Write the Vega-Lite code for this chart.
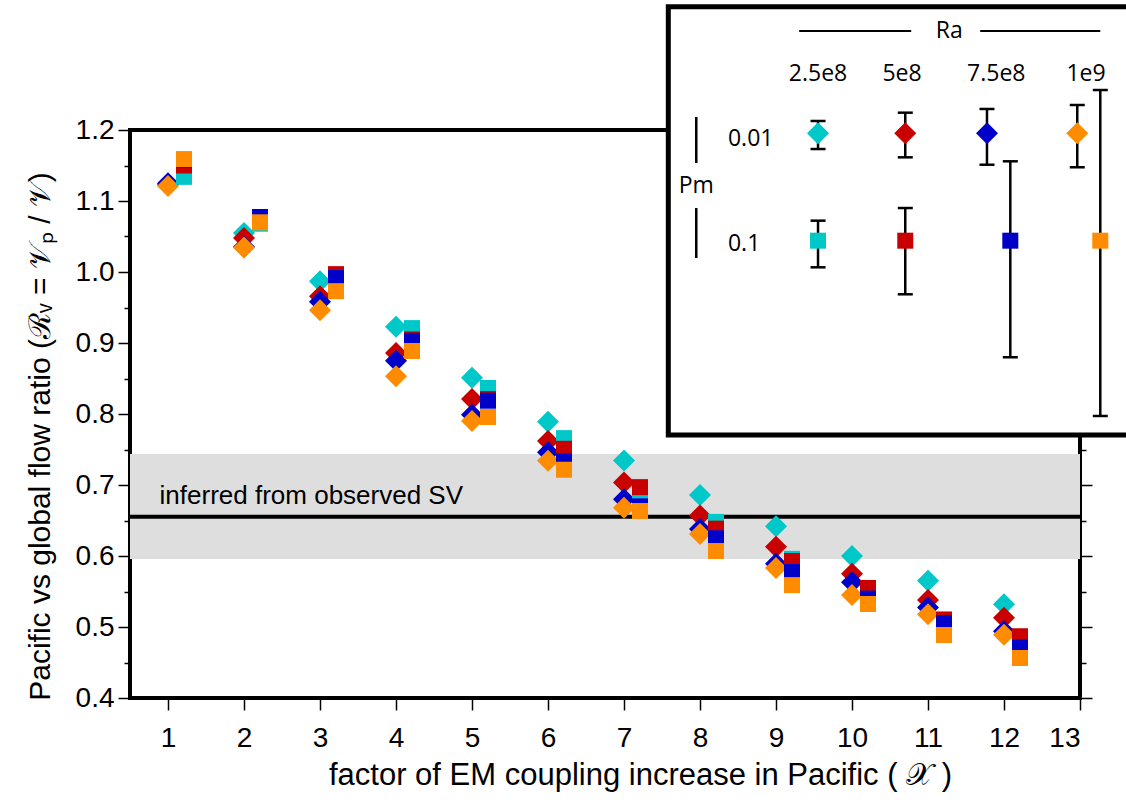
{
  "$schema": "https://vega.github.io/schema/vega-lite/v6.json",
  "width": 950,
  "height": 568,
  "autosize": {"type": "none"},
  "padding": {"left": 130, "top": 130, "right": 46, "bottom": 104},
  "background": "white",
  "config": {
    "view": {"stroke": "black", "strokeWidth": 4},
    "font": "Liberation Sans",
    "axis": {
      "labelFont": "Liberation Sans", "labelFontSize": 28, "labelColor": "black",
      "titleFont": "Liberation Sans", "titleFontSize": 30, "titleFontWeight": "normal", "titleColor": "black",
      "tickColor": "black", "tickWidth": 1.5, "domain": false, "grid": false
    },
    "axisX": {"tickSize": 12, "labelPadding": 14, "titlePadding": 8, "labelOverlap": false, "titleFontSize": 31}
  },
  "datasets": {
    "pts": [
      {"x": 1, "pm": "0.01", "ra": "2.5e8", "v": 1.124}, {"x": 2, "pm": "0.01", "ra": "2.5e8", "v": 1.055}, {"x": 3, "pm": "0.01", "ra": "2.5e8", "v": 0.987}, {"x": 4, "pm": "0.01", "ra": "2.5e8", "v": 0.923}, {"x": 5, "pm": "0.01", "ra": "2.5e8", "v": 0.851}, {"x": 6, "pm": "0.01", "ra": "2.5e8", "v": 0.789}, {"x": 7, "pm": "0.01", "ra": "2.5e8", "v": 0.7345}, {"x": 8, "pm": "0.01", "ra": "2.5e8", "v": 0.686}, {"x": 9, "pm": "0.01", "ra": "2.5e8", "v": 0.642}, {"x": 10, "pm": "0.01", "ra": "2.5e8", "v": 0.6}, {"x": 11, "pm": "0.01", "ra": "2.5e8", "v": 0.565}, {"x": 12, "pm": "0.01", "ra": "2.5e8", "v": 0.532},
      {"x": 1, "pm": "0.01", "ra": "5e8", "v": 1.123}, {"x": 2, "pm": "0.01", "ra": "5e8", "v": 1.048}, {"x": 3, "pm": "0.01", "ra": "5e8", "v": 0.966}, {"x": 4, "pm": "0.01", "ra": "5e8", "v": 0.886}, {"x": 5, "pm": "0.01", "ra": "5e8", "v": 0.821}, {"x": 6, "pm": "0.01", "ra": "5e8", "v": 0.762}, {"x": 7, "pm": "0.01", "ra": "5e8", "v": 0.7035}, {"x": 8, "pm": "0.01", "ra": "5e8", "v": 0.657}, {"x": 9, "pm": "0.01", "ra": "5e8", "v": 0.613}, {"x": 10, "pm": "0.01", "ra": "5e8", "v": 0.575}, {"x": 11, "pm": "0.01", "ra": "5e8", "v": 0.538}, {"x": 12, "pm": "0.01", "ra": "5e8", "v": 0.513},
      {"x": 1, "pm": "0.01", "ra": "7.5e8", "v": 1.125}, {"x": 2, "pm": "0.01", "ra": "7.5e8", "v": 1.0355}, {"x": 3, "pm": "0.01", "ra": "7.5e8", "v": 0.958}, {"x": 4, "pm": "0.01", "ra": "7.5e8", "v": 0.875}, {"x": 5, "pm": "0.01", "ra": "7.5e8", "v": 0.799}, {"x": 6, "pm": "0.01", "ra": "7.5e8", "v": 0.746}, {"x": 7, "pm": "0.01", "ra": "7.5e8", "v": 0.68}, {"x": 8, "pm": "0.01", "ra": "7.5e8", "v": 0.638}, {"x": 9, "pm": "0.01", "ra": "7.5e8", "v": 0.589}, {"x": 10, "pm": "0.01", "ra": "7.5e8", "v": 0.563}, {"x": 11, "pm": "0.01", "ra": "7.5e8", "v": 0.5275}, {"x": 12, "pm": "0.01", "ra": "7.5e8", "v": 0.494},
      {"x": 1, "pm": "0.01", "ra": "1e9", "v": 1.121}, {"x": 2, "pm": "0.01", "ra": "1e9", "v": 1.0345}, {"x": 3, "pm": "0.01", "ra": "1e9", "v": 0.946}, {"x": 4, "pm": "0.01", "ra": "1e9", "v": 0.853}, {"x": 5, "pm": "0.01", "ra": "1e9", "v": 0.79}, {"x": 6, "pm": "0.01", "ra": "1e9", "v": 0.734}, {"x": 7, "pm": "0.01", "ra": "1e9", "v": 0.668}, {"x": 8, "pm": "0.01", "ra": "1e9", "v": 0.631}, {"x": 9, "pm": "0.01", "ra": "1e9", "v": 0.583}, {"x": 10, "pm": "0.01", "ra": "1e9", "v": 0.545}, {"x": 11, "pm": "0.01", "ra": "1e9", "v": 0.518}, {"x": 12, "pm": "0.01", "ra": "1e9", "v": 0.489},
      {"x": 1, "pm": "0.1", "ra": "2.5e8", "v": 1.134}, {"x": 2, "pm": "0.1", "ra": "2.5e8", "v": 1.068}, {"x": 3, "pm": "0.1", "ra": "2.5e8", "v": 0.985}, {"x": 4, "pm": "0.1", "ra": "2.5e8", "v": 0.921}, {"x": 5, "pm": "0.1", "ra": "2.5e8", "v": 0.8366}, {"x": 6, "pm": "0.1", "ra": "2.5e8", "v": 0.766}, {"x": 7, "pm": "0.1", "ra": "2.5e8", "v": 0.687}, {"x": 8, "pm": "0.1", "ra": "2.5e8", "v": 0.648}, {"x": 9, "pm": "0.1", "ra": "2.5e8", "v": 0.596}, {"x": 10, "pm": "0.1", "ra": "2.5e8", "v": 0.549}, {"x": 11, "pm": "0.1", "ra": "2.5e8", "v": 0.511}, {"x": 12, "pm": "0.1", "ra": "2.5e8", "v": 0.482},
      {"x": 1, "pm": "0.1", "ra": "5e8", "v": 1.15}, {"x": 2, "pm": "0.1", "ra": "5e8", "v": 1.073}, {"x": 3, "pm": "0.1", "ra": "5e8", "v": 0.997}, {"x": 4, "pm": "0.1", "ra": "5e8", "v": 0.905}, {"x": 5, "pm": "0.1", "ra": "5e8", "v": 0.821}, {"x": 6, "pm": "0.1", "ra": "5e8", "v": 0.751}, {"x": 7, "pm": "0.1", "ra": "5e8", "v": 0.697}, {"x": 8, "pm": "0.1", "ra": "5e8", "v": 0.6385}, {"x": 9, "pm": "0.1", "ra": "5e8", "v": 0.593}, {"x": 10, "pm": "0.1", "ra": "5e8", "v": 0.555}, {"x": 11, "pm": "0.1", "ra": "5e8", "v": 0.51}, {"x": 12, "pm": "0.1", "ra": "5e8", "v": 0.487},
      {"x": 1, "pm": "0.1", "ra": "7.5e8", "v": 1.158}, {"x": 2, "pm": "0.1", "ra": "7.5e8", "v": 1.0775}, {"x": 3, "pm": "0.1", "ra": "7.5e8", "v": 0.9915}, {"x": 4, "pm": "0.1", "ra": "7.5e8", "v": 0.903}, {"x": 5, "pm": "0.1", "ra": "7.5e8", "v": 0.8187}, {"x": 6, "pm": "0.1", "ra": "7.5e8", "v": 0.733}, {"x": 7, "pm": "0.1", "ra": "7.5e8", "v": 0.67}, {"x": 8, "pm": "0.1", "ra": "7.5e8", "v": 0.625}, {"x": 9, "pm": "0.1", "ra": "7.5e8", "v": 0.5775}, {"x": 10, "pm": "0.1", "ra": "7.5e8", "v": 0.54}, {"x": 11, "pm": "0.1", "ra": "7.5e8", "v": 0.5056}, {"x": 12, "pm": "0.1", "ra": "7.5e8", "v": 0.471},
      {"x": 1, "pm": "0.1", "ra": "1e9", "v": 1.159}, {"x": 2, "pm": "0.1", "ra": "1e9", "v": 1.07}, {"x": 3, "pm": "0.1", "ra": "1e9", "v": 0.973}, {"x": 4, "pm": "0.1", "ra": "1e9", "v": 0.8887}, {"x": 5, "pm": "0.1", "ra": "1e9", "v": 0.7958}, {"x": 6, "pm": "0.1", "ra": "1e9", "v": 0.7215}, {"x": 7, "pm": "0.1", "ra": "1e9", "v": 0.6634}, {"x": 8, "pm": "0.1", "ra": "1e9", "v": 0.607}, {"x": 9, "pm": "0.1", "ra": "1e9", "v": 0.559}, {"x": 10, "pm": "0.1", "ra": "1e9", "v": 0.5324}, {"x": 11, "pm": "0.1", "ra": "1e9", "v": 0.4887}, {"x": 12, "pm": "0.1", "ra": "1e9", "v": 0.4563}
    ],
    "leg": [
      {"ra": "2.5e8", "pm": "0.01", "lx": 9.553, "ly": 1.1953, "lo": 1.1732, "hi": 1.2127},
      {"ra": "5e8", "pm": "0.01", "lx": 10.701, "ly": 1.1953, "lo": 1.1615, "hi": 1.2244},
      {"ra": "7.5e8", "pm": "0.01", "lx": 11.776, "ly": 1.1953, "lo": 1.1511, "hi": 1.2296},
      {"ra": "1e9", "pm": "0.01", "lx": 12.964, "ly": 1.1953, "lo": 1.1475, "hi": 1.2352},
      {"ra": "2.5e8", "pm": "0.1", "lx": 9.553, "ly": 1.0441, "lo": 1.0066, "hi": 1.0723},
      {"ra": "5e8", "pm": "0.1", "lx": 10.701, "ly": 1.0441, "lo": 0.9686, "hi": 1.0901},
      {"ra": "7.5e8", "pm": "0.1", "lx": 12.083, "ly": 1.0441, "lo": 0.8799, "hi": 1.1559},
      {"ra": "1e9", "pm": "0.1", "lx": 13.267, "ly": 1.0441, "lo": 0.7972, "hi": 1.2563}
    ]
  },
  "layer": [
    {
      "data": {"values": [{"lo": 0.5958, "hi": 0.7437}]},
      "mark": {"type": "rect", "color": "#dedede"},
      "encoding": {
        "y": {"field": "lo", "type": "quantitative", "scale": {"domain": [0.4, 1.2], "nice": false, "zero": false}, "axis": null},
        "y2": {"field": "hi"}
      }
    },
    {
      "data": {"values": [{"obs": 0.6553}]},
      "mark": {"type": "rule", "color": "black", "strokeWidth": 4},
      "encoding": {
        "y": {"field": "obs", "type": "quantitative", "scale": {"domain": [0.4, 1.2], "nice": false, "zero": false}, "axis": null}
      }
    },
    {
      "data": {"name": "pts"},
      "transform": [{"filter": "datum.pm === '0.01'"}],
      "mark": {"type": "point", "shape": "diamond", "filled": true, "size": 484, "opacity": 1, "strokeWidth": 0},
      "encoding": {
        "x": {"field": "x", "type": "quantitative", "scale": {"domain": [0.5, 13], "nice": false, "zero": false},
          "axis": {"orient": "bottom", "values": [1,2,3,4,5,6,7,8,9,10,11,12,13], "format": "d", "titleX": 510,
            "title": "factor of EM coupling increase in Pacific ( 𝒳 )"}},
        "y": {"field": "v", "type": "quantitative", "scale": {"domain": [0.4, 1.2], "nice": false, "zero": false},
          "axis": {"orient": "left",
            "values": [0.4,0.45,0.5,0.55,0.6,0.65,0.7,0.75,0.8,0.85,0.9,0.95,1.0,1.05,1.1,1.15,1.2],
            "labelExpr": "abs(datum.value*10 - round(datum.value*10)) < 0.001 ? format(datum.value, '.1f') : ''",
            "tickSize": {"expr": "abs(datum.value*10 - round(datum.value*10)) < 0.001 ? 12 : 6"},
            "labelPadding": 4, "titlePadding": 20, "titleY": 306,
            "title": "Pacific vs global flow ratio (ℛᵥ = 𝒱ₚ / 𝒱)"}},
        "color": {"field": "ra", "type": "nominal", "scale": {"domain": ["2.5e8", "5e8", "7.5e8", "1e9"], "range": ["#00c8c8", "#c80000", "#0000c8", "#ff8c00"]}, "legend": null}
      }
    },
    {
      "data": {"name": "pts"},
      "transform": [{"filter": "datum.pm === '0.1'"}],
      "mark": {"type": "point", "shape": "square", "filled": true, "size": 256, "opacity": 1, "strokeWidth": 0, "xOffset": 16},
      "encoding": {
        "x": {"field": "x", "type": "quantitative", "scale": {"domain": [0.5, 13], "nice": false, "zero": false}},
        "y": {"field": "v", "type": "quantitative", "scale": {"domain": [0.4, 1.2], "nice": false, "zero": false},
          "axis": {"orient": "right", "labels": false, "title": null,
            "values": [0.4,0.45,0.5,0.55,0.6,0.65,0.7,0.75,0.8,0.85,0.9,0.95,1.0,1.05,1.1,1.15,1.2],
            "tickSize": {"expr": "abs(datum.value*10 - round(datum.value*10)) < 0.001 ? 12 : 6"}}},
        "color": {"field": "ra", "type": "nominal", "legend": null}
      }
    },
    {
      "data": {"values": [{"t": "inferred from observed SV", "x": 0.889, "y": 0.6732}]},
      "mark": {"type": "text", "align": "left", "baseline": "alphabetic", "font": "Liberation Sans", "fontSize": 26, "color": "black"},
      "encoding": {
        "x": {"field": "x", "type": "quantitative", "scale": {"domain": [0.5, 13], "nice": false, "zero": false}},
        "y": {"field": "y", "type": "quantitative", "scale": {"domain": [0.4, 1.2], "nice": false, "zero": false}, "axis": null},
        "text": {"field": "t"}
      }
    },
    {
      "data": {"values": [{"x1": 7.583, "x2": 13.8, "y1": 0.7704, "y2": 1.3737}]},
      "mark": {"type": "rect", "fill": "white", "stroke": "black", "strokeWidth": 5, "clip": false},
      "encoding": {
        "x": {"field": "x1", "type": "quantitative", "scale": {"domain": [0.5, 13], "nice": false, "zero": false}},
        "x2": {"field": "x2"},
        "y": {"field": "y1", "type": "quantitative", "scale": {"domain": [0.4, 1.2], "nice": false, "zero": false}, "axis": null},
        "y2": {"field": "y2"}
      }
    },
    {
      "data": {"values": [{"x1": 9.305, "x2": 10.779, "y": 1.3394}, {"x1": 11.687, "x2": 13.267, "y": 1.3394}]},
      "mark": {"type": "rule", "color": "black", "strokeWidth": 2, "clip": false},
      "encoding": {
        "x": {"field": "x1", "type": "quantitative", "scale": {"domain": [0.5, 13], "nice": false, "zero": false}},
        "x2": {"field": "x2"},
        "y": {"field": "y", "type": "quantitative", "scale": {"domain": [0.4, 1.2], "nice": false, "zero": false}, "axis": null}
      }
    },
    {
      "data": {"values": [{"x": 7.951, "y1": 1.2183, "y2": 1.1535}, {"x": 7.951, "y1": 1.0901, "y2": 1.0197}]},
      "mark": {"type": "rule", "color": "black", "strokeWidth": 2.5, "clip": false},
      "encoding": {
        "x": {"field": "x", "type": "quantitative", "scale": {"domain": [0.5, 13], "nice": false, "zero": false}},
        "y": {"field": "y1", "type": "quantitative", "scale": {"domain": [0.4, 1.2], "nice": false, "zero": false}, "axis": null},
        "y2": {"field": "y2"}
      }
    },
    {
      "data": {"values": [
        {"t": "Ra", "x": 11.28, "y": 1.33},
        {"t": "2.5e8", "x": 9.553, "y": 1.269},
        {"t": "5e8", "x": 10.658, "y": 1.269},
        {"t": "7.5e8", "x": 11.898, "y": 1.269},
        {"t": "1e9", "x": 13.079, "y": 1.269},
        {"t": "Pm", "x": 7.951, "y": 1.1108}
      ]},
      "mark": {"type": "text", "align": "center", "baseline": "alphabetic", "font": "Open Sans", "fontSize": 23, "color": "black", "clip": false},
      "encoding": {
        "x": {"field": "x", "type": "quantitative", "scale": {"domain": [0.5, 13], "nice": false, "zero": false}},
        "y": {"field": "y", "type": "quantitative", "scale": {"domain": [0.4, 1.2], "nice": false, "zero": false}, "axis": null},
        "text": {"field": "t"}
      }
    },
    {
      "data": {"values": [
        {"t": "0.01", "x": 8.368, "y": 1.1779},
        {"t": "0.1", "x": 8.368, "y": 1.03}
      ]},
      "mark": {"type": "text", "align": "left", "baseline": "alphabetic", "font": "Open Sans", "fontSize": 23, "color": "black", "clip": false},
      "encoding": {
        "x": {"field": "x", "type": "quantitative", "scale": {"domain": [0.5, 13], "nice": false, "zero": false}},
        "y": {"field": "y", "type": "quantitative", "scale": {"domain": [0.4, 1.2], "nice": false, "zero": false}, "axis": null},
        "text": {"field": "t"}
      }
    },
    {
      "data": {"name": "leg"},
      "mark": {"type": "rule", "color": "black", "strokeWidth": 2.5, "clip": false},
      "encoding": {
        "x": {"field": "lx", "type": "quantitative", "scale": {"domain": [0.5, 13], "nice": false, "zero": false}},
        "y": {"field": "lo", "type": "quantitative", "scale": {"domain": [0.4, 1.2], "nice": false, "zero": false}, "axis": null},
        "y2": {"field": "hi"}
      }
    },
    {
      "data": {"name": "leg"},
      "mark": {"type": "tick", "orient": "horizontal", "color": "black", "size": 15, "thickness": 2.5, "opacity": 1, "clip": false},
      "encoding": {
        "x": {"field": "lx", "type": "quantitative", "scale": {"domain": [0.5, 13], "nice": false, "zero": false}},
        "y": {"field": "lo", "type": "quantitative", "scale": {"domain": [0.4, 1.2], "nice": false, "zero": false}, "axis": null}
      }
    },
    {
      "data": {"name": "leg"},
      "mark": {"type": "tick", "orient": "horizontal", "color": "black", "size": 15, "thickness": 2.5, "opacity": 1, "clip": false},
      "encoding": {
        "x": {"field": "lx", "type": "quantitative", "scale": {"domain": [0.5, 13], "nice": false, "zero": false}},
        "y": {"field": "hi", "type": "quantitative", "scale": {"domain": [0.4, 1.2], "nice": false, "zero": false}, "axis": null}
      }
    },
    {
      "data": {"name": "leg"},
      "transform": [{"filter": "datum.pm === '0.01'"}],
      "mark": {"type": "point", "shape": "diamond", "filled": true, "size": 484, "opacity": 1, "strokeWidth": 0, "clip": false},
      "encoding": {
        "x": {"field": "lx", "type": "quantitative", "scale": {"domain": [0.5, 13], "nice": false, "zero": false}},
        "y": {"field": "ly", "type": "quantitative", "scale": {"domain": [0.4, 1.2], "nice": false, "zero": false}, "axis": null},
        "color": {"field": "ra", "type": "nominal", "legend": null}
      }
    },
    {
      "data": {"name": "leg"},
      "transform": [{"filter": "datum.pm === '0.1'"}],
      "mark": {"type": "point", "shape": "square", "filled": true, "size": 256, "opacity": 1, "strokeWidth": 0, "clip": false},
      "encoding": {
        "x": {"field": "lx", "type": "quantitative", "scale": {"domain": [0.5, 13], "nice": false, "zero": false}},
        "y": {"field": "ly", "type": "quantitative", "scale": {"domain": [0.4, 1.2], "nice": false, "zero": false}, "axis": null},
        "color": {"field": "ra", "type": "nominal", "legend": null}
      }
    }
  ]
}
